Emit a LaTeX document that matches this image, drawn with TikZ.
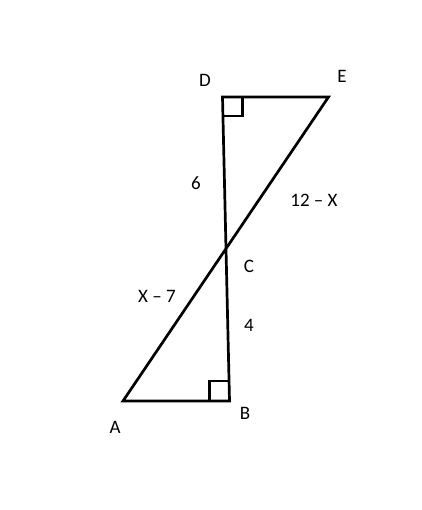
\documentclass[tikz,border=0pt]{standalone}
\usepackage{fontspec}
\setmainfont{Carlito}
\begin{document}
\begin{tikzpicture}[x=1pt,y=-1pt,
  seg/.style={line width=2.7pt,line cap=butt,line join=miter},
  lbl/.style={font=\fontsize{19}{22}\selectfont,inner sep=0pt}]
\useasboundingbox (0,0) rectangle (421,510);
\coordinate (D) at (222.5,97);
\coordinate (E) at (328.5,97);
\coordinate (A) at (123,401);
\coordinate (B) at (229.5,401);
\coordinate (C) at (225.8,249);
\draw[seg] (A) -- (B) -- (D) -- (E) -- cycle;
% right angle marks
\draw[seg] (D) ++(0,19) -- ++(20,0) -- ++(0,-19);
\draw[seg] (B) ++(-20,0) -- ++(0,-20) -- ++(20,0);
\node[lbl] (lD) at (205,80) {D};
\node[lbl] (lE) at (342,76) {E};
\node[lbl] (lA) at (115,427) {A};
\node[lbl] (lB) at (245,413) {B};
\node[lbl] (lC) at (249,266) {C};
\node[lbl] (l6) at (196,183) {6};
\node[lbl] (l12) at (314,200) {12 – X};
\node[lbl] (l7) at (157,296) {X – 7};
\node[lbl] (l4) at (249,325) {4};
\end{tikzpicture}
\end{document}
